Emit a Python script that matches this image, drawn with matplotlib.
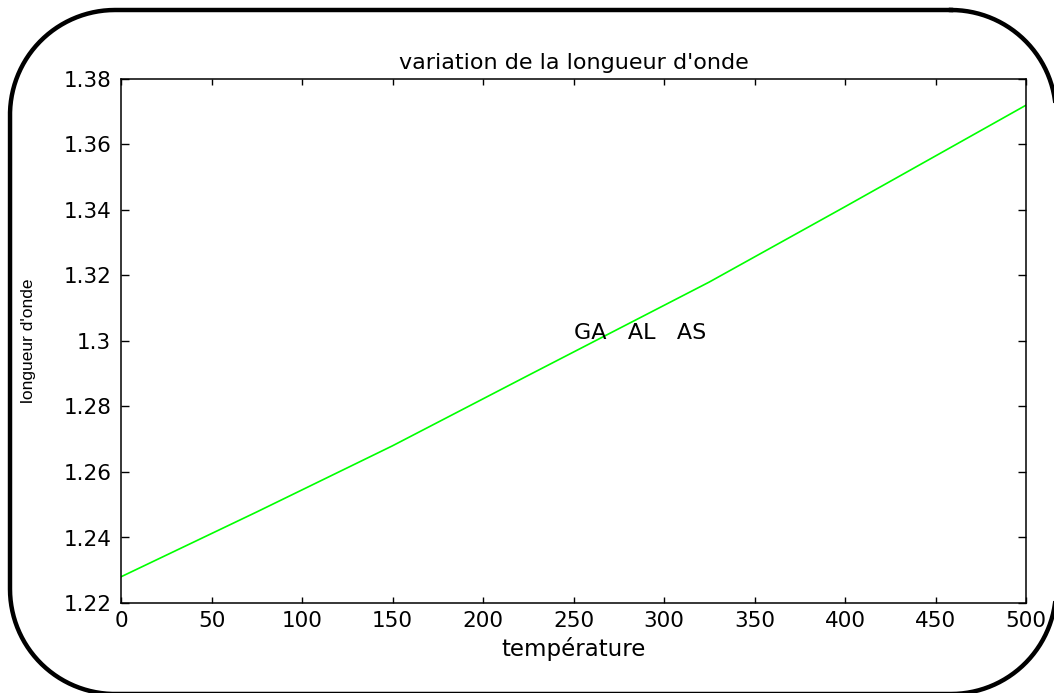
import matplotlib
matplotlib.use("Agg")
import matplotlib.pyplot as plt
import numpy as np
from matplotlib.ticker import FormatStrFormatter

# Temperature (x) and wavelength (y) samples for GaAlAs
temperature = [0, 75, 150, 225, 325, 400, 500]
wavelength = [1.228, 1.2478, 1.268, 1.2895, 1.318, 1.341, 1.372]

x_ticks = [0, 50, 100, 150, 200, 250, 300, 350, 400, 450, 500]
y_ticks = [1.22, 1.24, 1.26, 1.28, 1.30, 1.32, 1.34, 1.36, 1.38]

title_text = "variation de la longueur d'onde"
x_label = "température"
y_label = "longueur d'onde"
note_text = "GA   AL   AS"
note_pos = (250, 1.3025)

W, H = 1054, 693
fig = plt.figure(figsize=(W / 100, H / 100), dpi=100)
fig.patch.set_facecolor("white")

ax = fig.add_axes([121 / W, 1 - 603 / H, (1026 - 121) / W, (603 - 79) / H], zorder=1)
ax.plot(temperature, wavelength, color="#00ff00", linewidth=1.2)

ax.set_xlim(0, 500)
ax.set_ylim(1.22, 1.38)
ax.set_xticks(x_ticks)
ax.set_yticks(y_ticks)
ax.yaxis.set_major_formatter(FormatStrFormatter("%g"))

font = "DejaVu Sans"
for lbl in ax.get_xticklabels() + ax.get_yticklabels():
    lbl.set_fontfamily(font)
    lbl.set_fontsize(15.5)

ax.tick_params(axis="both", direction="in", top=True, right=True,
               color="black", width=1.0, labelcolor="black")
ax.tick_params(axis="x", length=4, pad=6)
ax.tick_params(axis="y", length=5.5, pad=7)
for s in ax.spines.values():
    s.set_linewidth(1.1)
    s.set_color("black")

ax.set_title(title_text, fontsize=16, family=font, pad=7)
ax.set_xlabel(x_label, fontsize=16.5, family=font, labelpad=4)
ax.set_ylabel(y_label, fontsize=12.5, family="Liberation Sans")
ax.yaxis.set_label_coords(-0.094, 0.5)

ax.text(note_pos[0], note_pos[1], note_text, fontsize=16, family=font,
        ha="left", va="center")

# Rounded border around the whole figure, in pixel coordinates (y downward)
frame = fig.add_axes([0, 0, 1, 1], zorder=3)
frame.set_xlim(0, W)
frame.set_ylim(H, 0)
frame.axis("off")
frame.patch.set_alpha(0)

left, top, right, bottom, r = 10, 10, 1056, 694, 105
corners = [
    (right - r, top + r, -90, 0),      # top-right
    (right - r, bottom - r, 0, 90),    # bottom-right
    (left + r, bottom - r, 90, 180),   # bottom-left
    (left + r, top + r, 180, 270),     # top-left
]
px, py = [], []
for cx, cy, a0, a1 in corners:
    t = np.radians(np.linspace(a0, a1, 60))
    px.extend(cx + r * np.cos(t))
    py.extend(cy + r * np.sin(t))
px.append(px[0])
py.append(py[0])
frame.plot(px, py, color="black", linewidth=3.2, solid_joinstyle="round",
           clip_on=False)

fig.savefig("out.png", dpi=100)
